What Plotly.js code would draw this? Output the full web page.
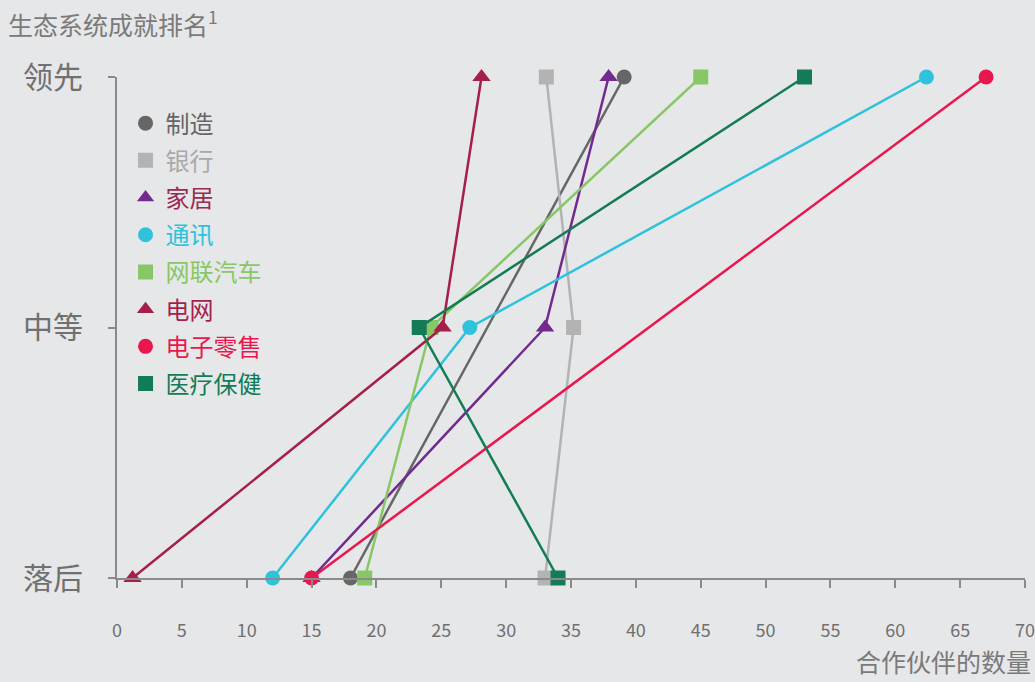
<!DOCTYPE html>
<html>
<head>
<meta charset="utf-8">
<script src="https://cdn.plot.ly/plotly-3.0.1.min.js"></script>
<style>html,body{margin:0;padding:0;background:#e6e7e9;}#chart{width:1035px;height:682px;}</style>
</head>
<body>
<div id="chart"></div>
<script>
// Rank levels (y): 0 = 落后, 1 = 中等, 2 = 领先
const levelValues = [0, 1, 2];
const levelLabels = ['落后', '中等', '领先'];
const xTicks = [0, 5, 10, 15, 20, 25, 30, 35, 40, 45, 50, 55, 60, 65, 70];

const seriesNames = ['制造', '银行', '家居', '通讯', '网联汽车', '电网', '电子零售', '医疗保健'];
// number of partners at each level [落后, 中等, 领先] (null = no point)
const manufacturing = [18.0, null, 39.1];
const banking       = [33.0, 35.2, 33.1];
const home          = [15.0, 33.0, 37.9];
const telecom       = [12.0, 27.2, 62.4];
const connectedCars = [19.1, 24.2, 45.0];
const powerGrid     = [1.2, 25.1, 28.1];
const eRetail       = [15.0, null, 67.0];
const healthcare    = [34.0, 23.3, 53.0];

const seriesValues = [manufacturing, banking, home, telecom, connectedCars, powerGrid, eRetail, healthcare];
const colors = ['#666666', '#b3b3b3', '#722a8e', '#2fc2dc', '#88c766', '#a51f4a', '#e8184f', '#137c56'];
const textColors = ['#666666', '#a9a9a9', '#9a2a52', '#2fc2dc', '#88c766', '#a51f4a', '#e8184f', '#137c56'];
const symbols = ['circle', 'square', 'triangle-up', 'circle', 'square', 'triangle-up', 'circle', 'square'];
const sizes = [15, 15, 16, 15, 15, 16, 15, 15];

const traces = [];
seriesNames.forEach((name, i) => {
  traces.push({
    type: 'scatter', mode: 'lines+markers',
    x: seriesValues[i], y: levelValues,
    connectgaps: true, cliponaxis: false, showlegend: false,
    line: {color: colors[i], width: 2.5},
    marker: {color: colors[i], symbol: symbols[i], size: sizes[i]},
    hoverinfo: 'skip'
  });
});
seriesNames.forEach((name, i) => {
  traces.push({
    type: 'scatter', mode: 'markers',
    x: [null], y: [null],
    name: '<span style="color:' + textColors[i] + '">' + name + '</span>',
    legendgroup: 'g' + i,
    marker: {color: colors[i], symbol: symbols[i], size: 15},
    hoverinfo: 'skip'
  });
});

const layout = {
  width: 1035, height: 682,
  paper_bgcolor: '#e6e7e9', plot_bgcolor: '#e6e7e9',
  font: {family: '"Noto Sans CJK SC", "Noto Sans", sans-serif', color: '#707070'},
  margin: {l: 116.5, r: 10, t: 77, b: 104},
  showlegend: true,
  legend: {
    x: 0.0094, y: 0.952, xanchor: 'left', yanchor: 'top',
    bgcolor: 'rgba(0,0,0,0)', font: {size: 24, color: '#666'},
    tracegroupgap: 3, itemclick: false, itemdoubleclick: false
  },
  xaxis: {
    range: [0, 70], tickvals: xTicks, ticktext: xTicks.map(String),
    showgrid: false, zeroline: false,
    showline: true, linecolor: '#8a8a8a', linewidth: 2,
    ticks: 'outside', ticklen: 8, tickwidth: 2, tickcolor: '#8a8a8a',
    tickfont: {size: 18, color: '#707070'},
    ticklabelstandoff: 27, fixedrange: true
  },
  yaxis: {
    range: [0, 2], tickvals: levelValues, ticktext: levelLabels,
    showgrid: false, zeroline: false,
    showline: true, linecolor: '#8a8a8a', linewidth: 2,
    ticks: 'outside', ticklen: 7, tickwidth: 2, tickcolor: '#8a8a8a',
    tickfont: {size: 30, color: '#707070'},
    ticklabelstandoff: 19, fixedrange: true
  },
  annotations: [
    {text: '生态系统成就排名<sup>1</sup>', xref: 'paper', yref: 'paper',
     x: (5 - 116.5) / 908.5, y: 1 + (77 - 23) / 501, xanchor: 'left', yanchor: 'middle',
     showarrow: false, font: {size: 25, color: '#7a7a7a'}},
    {text: '合作伙伴的数量', xref: 'paper', yref: 'paper',
     x: (1033 - 116.5) / 908.5, y: -(661 - 578) / 501, xanchor: 'right', yanchor: 'middle',
     showarrow: false, font: {size: 25, color: '#7a7a7a'}}
  ],
  hovermode: false
};

Plotly.newPlot('chart', traces, layout, {displayModeBar: false, staticPlot: true});
</script>
</body>
</html>
